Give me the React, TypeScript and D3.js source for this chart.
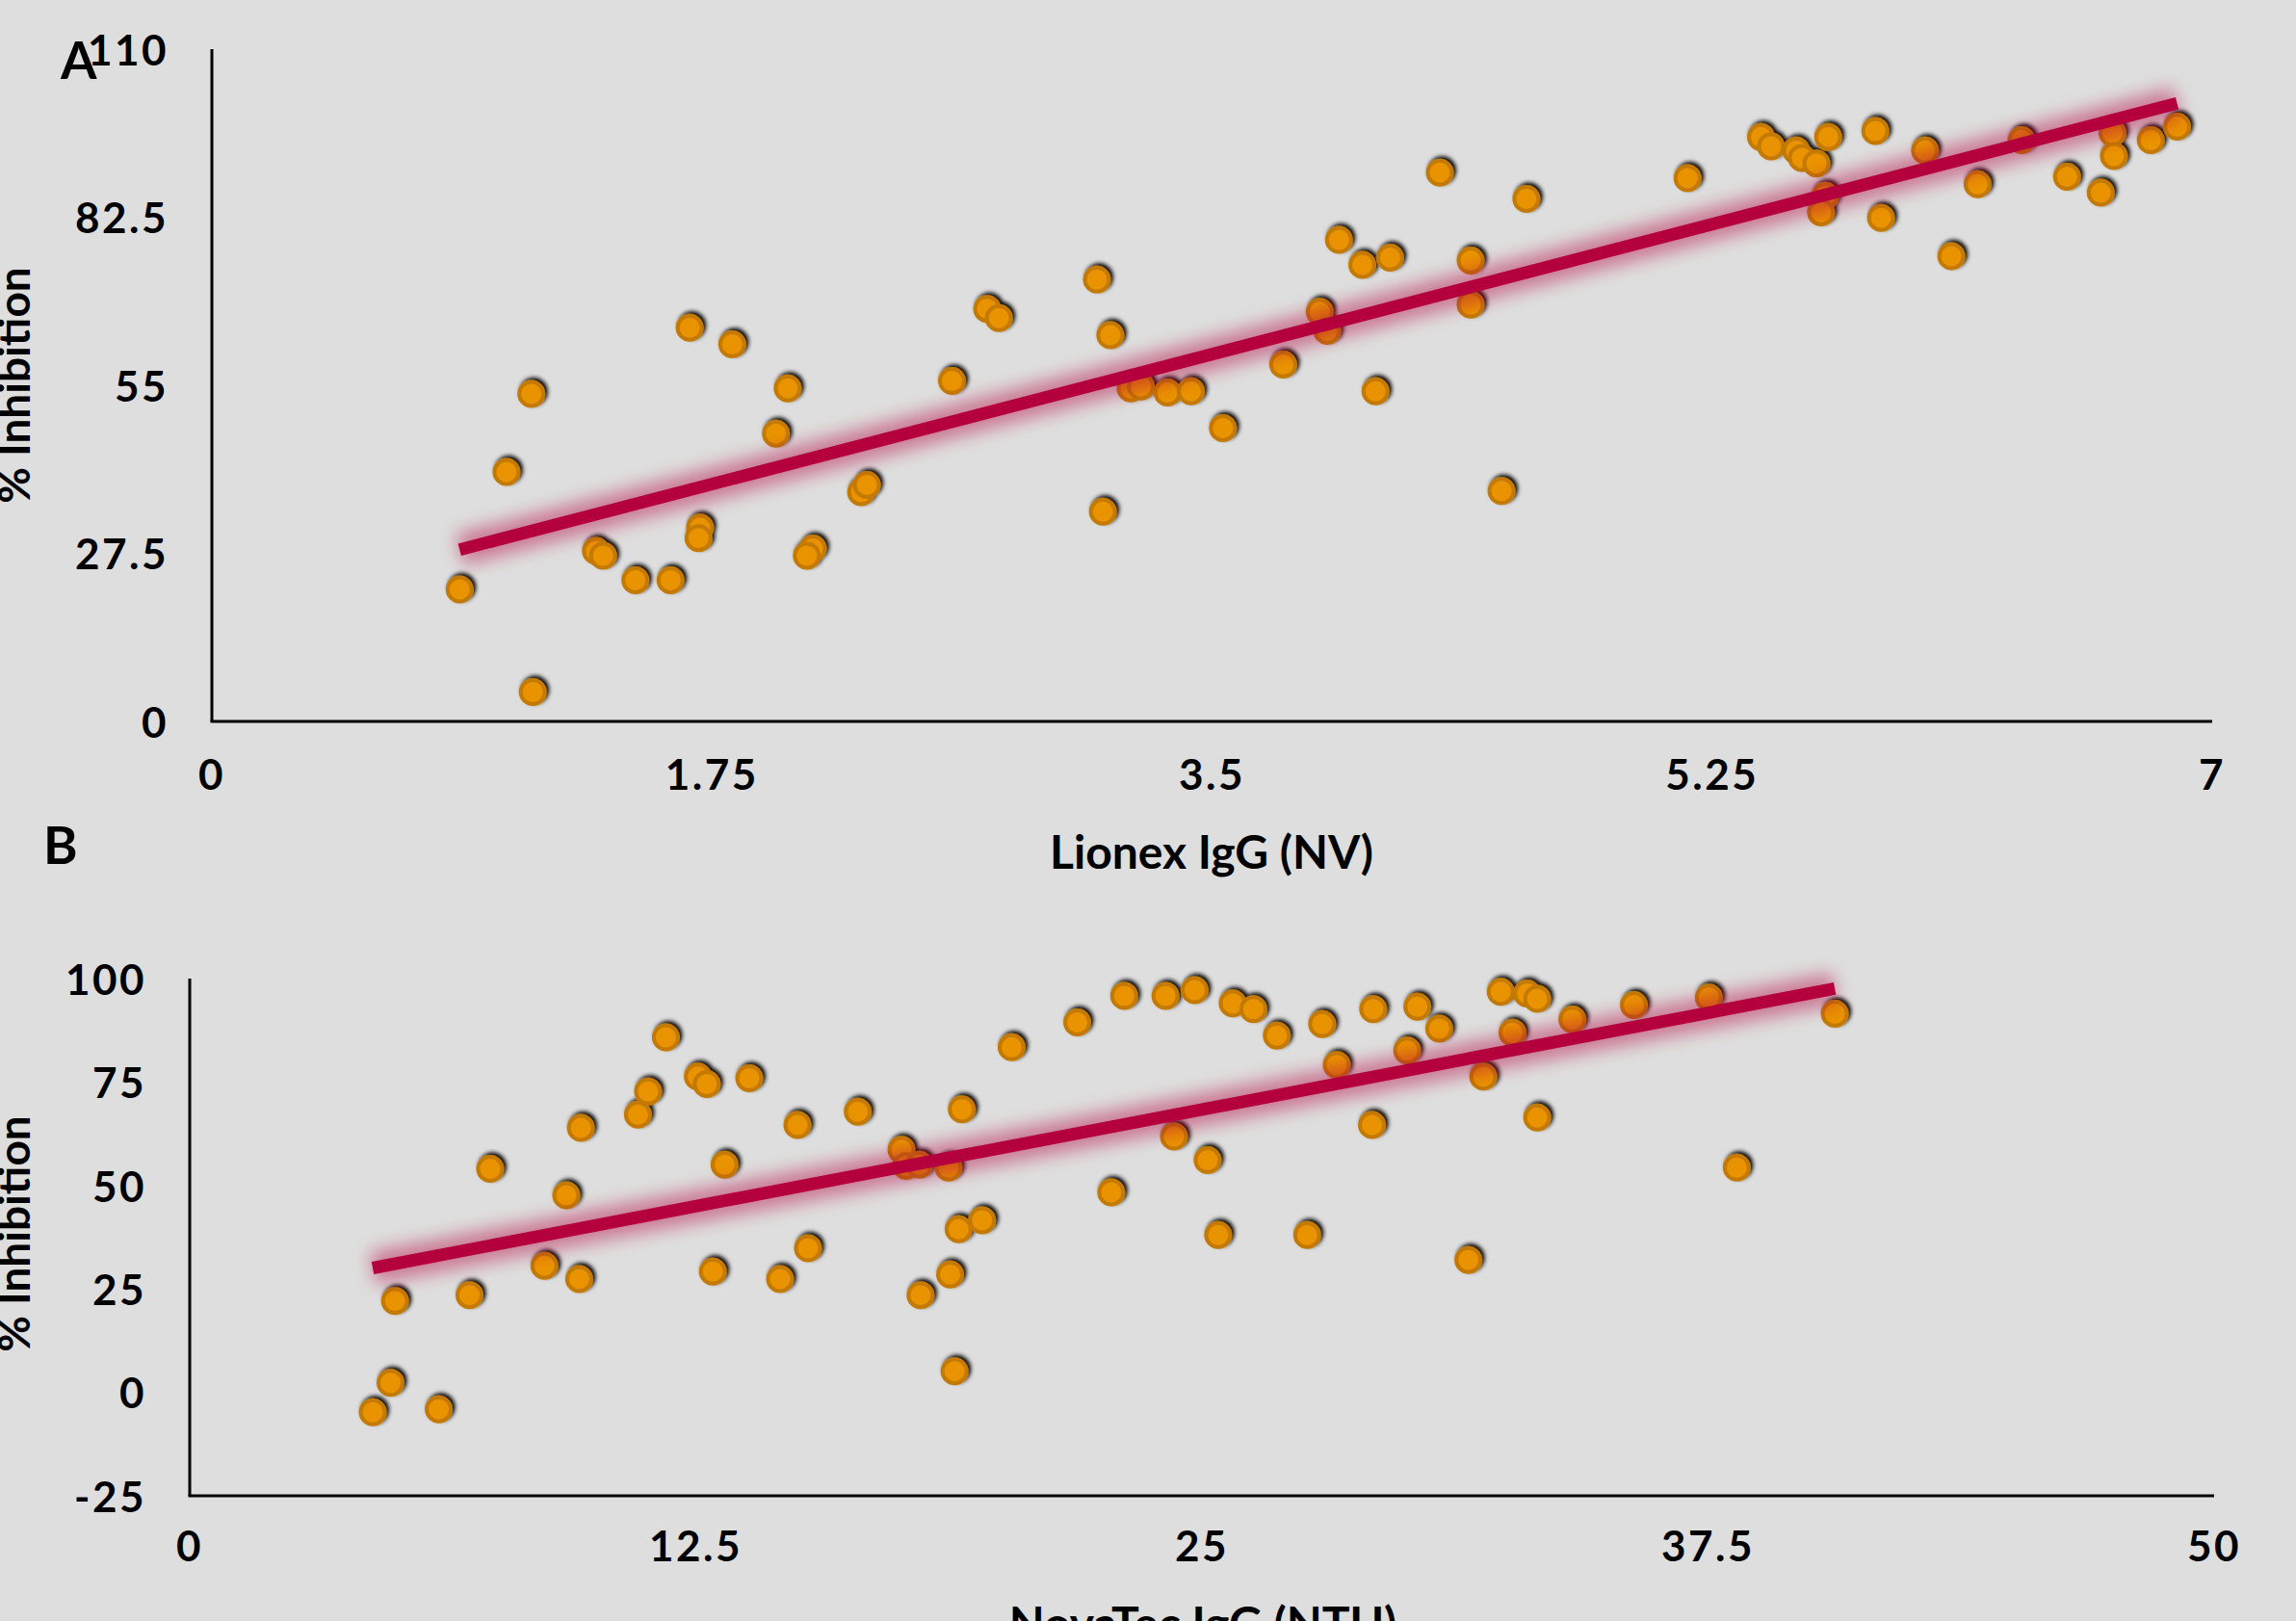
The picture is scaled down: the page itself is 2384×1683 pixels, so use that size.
import React, { useEffect } from "react";
import * as d3 from "d3";

// ---------- Panel A : Lionex IgG (NV) vs % Inhibition ----------
const lionexX: number[] = [0.867, 1.123, 1.031, 1.118, 1.344, 1.369, 1.482, 1.605, 1.672, 1.708, 1.703, 1.821, 1.974, 2.015, 2.103, 2.082, 2.272, 2.292, 2.590, 2.713, 2.754, 3.097, 3.144, 3.118, 3.215, 3.251, 3.344, 3.426, 3.538, 3.749, 3.877, 3.903, 3.944, 4.026, 4.072, 4.123, 4.297, 4.405, 4.405, 4.513, 4.600, 5.164, 5.421, 5.456, 5.544, 5.564, 5.615, 5.656, 5.646, 5.631, 5.821, 5.841, 5.995, 6.087, 6.179, 6.333, 6.492, 6.610, 6.651, 6.656, 6.785, 6.877];
const lionexInhibition: number[] = [21.6, 4.8, 40.8, 53.6, 27.9, 27.1, 23.1, 23.1, 64.4, 31.7, 30.0, 61.7, 47.1, 54.5, 28.3, 27.1, 37.5, 38.7, 55.7, 67.5, 66.0, 72.3, 63.2, 34.3, 54.5, 54.8, 53.8, 54.0, 48.0, 58.4, 67.0, 63.9, 78.8, 74.7, 54.0, 75.9, 89.8, 75.4, 68.2, 37.7, 85.5, 88.9, 95.6, 94.1, 93.4, 92.2, 91.3, 95.6, 86.0, 83.3, 96.6, 82.4, 93.4, 76.1, 87.9, 95.1, 89.1, 86.5, 96.3, 92.5, 95.1, 97.3];
const lionexTrend = { slope: 12.15, intercept: 17.57 };
const lionexXTicks: number[] = [0, 1.75, 3.5, 5.25, 7];
const lionexYTicks: number[] = [0, 27.5, 55, 82.5, 110];

// ---------- Panel B : NovaTec IgG (NTU) vs % Inhibition ----------
const novatecX: number[] = [4.52, 4.96, 5.07, 6.15, 6.91, 7.42, 8.76, 9.30, 9.62, 9.66, 11.07, 11.32, 11.76, 12.55, 12.77, 12.92, 13.21, 13.82, 14.58, 15.01, 15.27, 16.50, 17.58, 17.69, 18.02, 18.05, 18.74, 18.78, 18.89, 18.99, 19.07, 19.57, 20.30, 21.92, 22.76, 23.08, 24.10, 24.31, 24.82, 25.14, 25.40, 25.76, 26.27, 26.85, 27.60, 27.97, 28.33, 29.20, 29.23, 30.07, 30.32, 30.86, 31.58, 31.95, 32.38, 32.67, 33.03, 33.28, 33.28, 34.15, 35.67, 37.52, 38.21, 40.63];
const novatecInhibition: number[] = [-4.8, 2.3, 22.1, -4.1, 23.5, 54.0, 30.6, 47.6, 27.4, 63.9, 67.1, 72.7, 85.8, 76.3, 74.5, 29.2, 55.0, 75.9, 27.4, 64.6, 34.8, 67.8, 58.6, 54.7, 55.0, 23.5, 54.3, 28.5, 5.1, 39.4, 68.4, 41.6, 83.4, 89.4, 48.3, 95.8, 95.8, 61.8, 97.2, 56.1, 38.0, 94.0, 92.6, 86.2, 38.0, 89.0, 79.1, 64.6, 92.6, 82.6, 93.2, 87.9, 32.0, 76.3, 96.8, 86.9, 96.4, 95.1, 66.4, 90.1, 93.6, 95.4, 54.3, 91.5];
const novatecTrend = { slope: 1.87, intercept: 21.6 };
const novatecXTicks: number[] = [0, 12.5, 25, 37.5, 50];
const novatecYTicks: number[] = [-25, 0, 25, 50, 75, 100];

const W = 2384;
const H = 1683;
const FONT = "Lato, 'Open Sans', 'DejaVu Sans', sans-serif";
const BG = "#dedede";
const DOT_FILL = "#ea9300";
const DOT_STROKE = "#c47a00";
const TREND = "#b4003c";

type PanelProps = {
  xs: number[];
  ys: number[];
  trend: { slope: number; intercept: number };
  xDomain: [number, number];
  yDomain: [number, number];
  xRange: [number, number];
  yRange: [number, number];
  xTicks: number[];
  yTicks: number[];
  yLabelRight: number;
  xLabelY: number;
};

function Panel(p: PanelProps) {
  const x = d3.scaleLinear().domain(p.xDomain).range(p.xRange);
  const y = d3.scaleLinear().domain(p.yDomain).range(p.yRange);
  const pts = p.xs.map((v, i) => [v, p.ys[i]] as [number, number]);
  const [x0, x1] = d3.extent(p.xs) as [number, number];
  const trendPts: [number, number][] = [
    [x0, p.trend.intercept + p.trend.slope * x0],
    [x1, p.trend.intercept + p.trend.slope * x1],
  ];
  const line = d3
    .line<[number, number]>()
    .x((d) => x(d[0]))
    .y((d) => y(d[1]));
  const path = line(trendPts) || "";
  return (
    <g>
      <line x1={x(p.xDomain[0])} x2={x(p.xDomain[0])} y1={y(p.yDomain[1])} y2={y(p.yDomain[0])} stroke="#000" strokeWidth={3} />
      <line x1={x(p.xDomain[0]) - 1.5} x2={x(p.xDomain[1])} y1={y(p.yDomain[0])} y2={y(p.yDomain[0])} stroke="#000" strokeWidth={3} />
      {p.yTicks.map((t) => (
        <text key={"y" + t} x={p.yLabelRight} y={y(t)} dy="0.38em" textAnchor="end" fontFamily={FONT} fontWeight="bold" fontSize={44} letterSpacing={2.5} fill="#000">
          {String(t)}
        </text>
      ))}
      {p.xTicks.map((t) => (
        <text key={"x" + t} x={x(t)} y={p.xLabelY} dy="0.38em" textAnchor="middle" fontFamily={FONT} fontWeight="bold" fontSize={44} letterSpacing={2.5} fill="#000">
          {String(t)}
        </text>
      ))}
      <g filter="url(#dotShadow)">
        {pts.map((d, i) => (
          <circle key={i} cx={x(d[0])} cy={y(d[1])} r={12.5} fill={DOT_FILL} stroke={DOT_STROKE} strokeWidth={4} />
        ))}
      </g>
      <path d={path} stroke={TREND} strokeWidth={34} strokeOpacity={0.45} fill="none" filter="url(#glow)" />
      <path d={path} stroke={TREND} strokeWidth={13} fill="none" />
    </g>
  );
}

export default function App() {
  useEffect(() => {
    document.body.style.margin = "0";
    document.body.style.background = BG;
  }, []);
  return (
    <svg width={W} height={H} viewBox={`0 0 ${W} ${H}`} style={{ display: "block", background: BG }}>
      <defs>
        <filter id="dotShadow" x="-10%" y="-10%" width="120%" height="120%">
          <feDropShadow dx={2.5} dy={-2.5} stdDeviation={2} floodColor="#000" floodOpacity={1} />
        </filter>
        <filter id="glow" x="-20%" y="-50%" width="140%" height="200%">
          <feGaussianBlur stdDeviation={9} />
        </filter>
      </defs>
      <rect x={0} y={0} width={W} height={H} fill={BG} />

      <Panel
        xs={lionexX}
        ys={lionexInhibition}
        trend={lionexTrend}
        xDomain={[0, 7]}
        yDomain={[0, 110]}
        xRange={[220, 2297]}
        yRange={[749, 51]}
        xTicks={lionexXTicks}
        yTicks={lionexYTicks}
        yLabelRight={175}
        xLabelY={803}
      />
      <Panel
        xs={novatecX}
        ys={novatecInhibition}
        trend={novatecTrend}
        xDomain={[0, 50]}
        yDomain={[-25, 100]}
        xRange={[197, 2299]}
        yRange={[1553, 1016]}
        xTicks={novatecXTicks}
        yTicks={novatecYTicks}
        yLabelRight={152}
        xLabelY={1604}
      />

      <text x={63} y={82} fontFamily={FONT} fontWeight="bold" fontSize={54} fill="#000">A</text>
      <text x={45} y={897} fontFamily={FONT} fontWeight="bold" fontSize={54} fill="#000">B</text>

      <text x={1258} y={902} textAnchor="middle" fontFamily={FONT} fontWeight="bold" fontSize={48} fill="#000">Lionex IgG (NV)</text>
      <text x={1249} y={1703} textAnchor="middle" fontFamily={FONT} fontWeight="bold" fontSize={48} fill="#000">NovaTec IgG (NTU)</text>
      <text transform="translate(31,400) rotate(-90)" textAnchor="middle" fontFamily={FONT} fontWeight="bold" fontSize={46} fill="#000">% Inhibition</text>
      <text transform="translate(31,1281) rotate(-90)" textAnchor="middle" fontFamily={FONT} fontWeight="bold" fontSize={46} fill="#000">% Inhibition</text>
    </svg>
  );
}
